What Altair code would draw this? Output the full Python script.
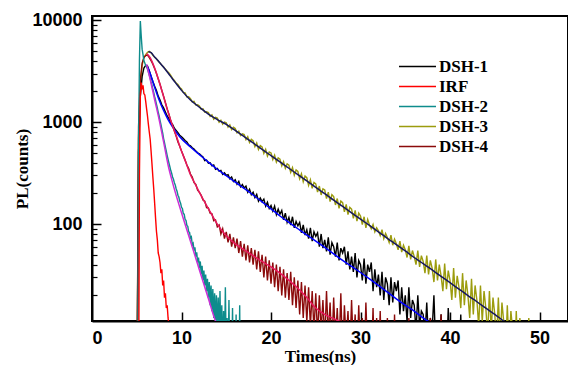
import altair as alt
import pandas as pd

# ---------------- data ----------------
series_names = ["DSH-1", "IRF", "DSH-2", "DSH-3", "DSH-4"]
series_colors = ["#000000", "#FF0000", "#0E8C8C", "#9C9C0E", "#8B0A0A"]

# DSH-3 (olive) counts, t from 5.0 ns, step 0.2 ns
dsh3_t0, dsh3_dt = 5.0, 0.2
dsh3_counts = [
    1, 700, 2300, 3600, 4300, 4600, 4850, 4950, 4800, 4520,
    4330, 4180, 3960, 3810, 3620, 3470, 3310, 3160, 3040, 2870,
    2690, 2570, 2420, 2340, 2190, 2120, 1960, 1940, 1770, 1780,
    1700, 1580, 1600, 1470, 1480, 1440, 1340, 1350, 1250, 1265,
    1240, 1140, 1180, 1070, 1115, 1095, 1000, 1045, 955, 1000,
    985, 895, 940, 845, 890, 865, 785, 815, 740, 770,
    755, 675, 720, 632, 678, 658, 576, 625, 540, 590,
    572, 494, 542, 465, 510, 498, 430, 474, 405, 446,
    434, 372, 410, 352, 390, 378, 322, 358, 302, 340,
    328, 278, 312, 260, 296, 285, 240, 272, 224, 256,
    248, 206, 236, 193, 222, 216, 178, 206, 166, 194,
    186, 154, 178, 143, 168, 162, 132, 156, 124, 146,
    140, 114, 136, 107, 128, 120, 99, 118, 92, 111,
    98, 90, 99, 84, 92, 86, 77, 88, 72, 81,
    74, 66, 78, 62, 71, 64, 56, 68, 53, 62,
    56, 47, 61, 45, 55, 48, 40, 55, 38, 49,
    43, 33, 49, 32, 44, 37, 27, 45, 28, 40,
    31, 22, 41, 23, 35, 28, 18, 37, 19, 31,
    24, 15, 33, 16, 28, 20, 12, 29, 13, 25,
    18, 10, 25, 11, 22, 15, 8, 22, 9, 19,
    13, 7, 19, 7, 17, 11, 5, 16, 6, 14,
    9, 4, 14, 5, 12, 7, 3, 10, 4, 12,
    5, 2, 4, 2, 1,
]

# DSH-1 (black) counts, t from 5.0 ns, step 0.2 ns
dsh1_t0, dsh1_dt = 5.0, 0.2
dsh1_counts = [
    1, 500, 1800, 2800, 3400, 3600, 3550, 3200, 2800, 2500,
    2250, 2050, 1800, 1650, 1480, 1380, 1260, 1150, 1080, 980,
    950, 870, 830, 790, 745, 720, 690, 660, 640, 600,
    585, 560, 545, 520, 500, 490, 470, 455, 420, 425,
    395, 400, 372, 380, 345, 352, 330, 336, 308, 318,
    300, 305, 278, 290, 262, 272, 246, 262, 232, 244,
    226, 236, 205, 220, 194, 205, 182, 196, 168, 180,
    166, 176, 150, 164, 142, 152, 134, 150, 124, 140,
    125, 136, 110, 128, 104, 116, 98, 118, 92, 106,
    96, 104, 82, 98, 78, 88, 72, 92, 68, 84,
    76, 82, 60, 80, 58, 70, 54, 74, 50, 66,
    60, 48, 66, 44, 58, 52, 60, 40, 54, 36,
    48, 34, 52, 30, 44, 40, 28, 46, 26, 40,
    34, 42, 22, 36, 24, 32, 20, 34, 18, 30,
    26, 16, 30, 17, 27, 22, 28, 13, 24, 14,
    20, 11, 24, 12, 18, 16, 9, 20, 10, 14,
    13, 8, 17, 7, 12, 9, 20, 6, 10, 5,
    13, 5, 8, 4, 15, 6, 4, 11, 3, 7,
    4, 13, 3, 5, 2, 8, 2, 4, 1, 1,
]

# DSH-4 (dark red) counts, t from 5.0 ns, step 0.2 ns
dsh4_t0, dsh4_dt = 5.0, 0.2
dsh4_counts = [
    1, 900, 2600, 3800, 4300, 4500, 4550, 4300, 4000, 3700,
    3350, 3000, 2650, 2350, 2050, 1800, 1560, 1350, 1200, 1030,
    930, 820, 730, 640, 580, 520, 470, 425, 380, 350,
    310, 290, 255, 245, 215, 205, 192, 172, 168, 145,
    144, 128, 126, 108, 110, 94, 98, 80, 90, 72,
    84, 66, 80, 60, 74, 58, 72, 52, 68, 48,
    64, 44, 62, 42, 58, 40, 56, 36, 54, 34,
    50, 30, 48, 28, 44, 26, 42, 24, 40, 22,
    38, 20, 36, 19, 33, 18, 34, 16, 30, 15,
    28, 13, 27, 12, 25, 11, 24, 10, 22, 9,
    21, 8, 20, 9, 18, 7, 22, 8, 17, 6,
    19, 7, 15, 6, 21, 5, 16, 7, 14, 5,
    18, 6, 13, 4, 16, 5, 12, 4, 17, 5,
    11, 4, 15, 3, 12, 4, 14, 3, 10, 3,
    12, 3, 9, 2, 13, 3, 8, 2, 11, 2,
    7, 2, 12, 2, 6, 2, 10, 2, 5, 1,
    9, 1, 4, 1, 12, 1, 3, 1, 8, 1,
    13, 1, 2, 1, 11, 1, 2, 1, 9, 1,
]

# DSH-2 (teal) counts, t from 5.0 ns, step 0.1 ns
dsh2_t0, dsh2_dt = 5.0, 0.1
dsh2_counts = [
    1, 1, 600, 4000, 9800, 7000, 5200, 4600, 4000, 3800,
    3600, 3500, 3300, 3100, 2900, 2700, 2480, 2300, 2100, 1950,
    1780, 1640, 1500, 1380, 1250, 1150, 1040, 950, 860, 780,
    690, 630, 570, 520, 470, 430, 395, 365, 335, 315,
    290, 275, 255, 242, 222, 210, 192, 184, 168, 160,
    146, 142, 127, 125, 111, 109, 97, 95, 84, 83,
    73, 75, 63, 65, 55, 59, 48, 53, 42, 47,
    37, 43, 32, 39, 28, 35, 25, 32, 22, 29,
    19, 27, 16, 25, 14, 23, 12, 21, 10, 20,
    9, 19, 8, 22, 7, 16, 6, 14, 5, 24,
    5, 12, 4, 18, 4, 10, 3, 15, 3, 8,
    2, 13, 2, 6, 2, 16, 1, 5, 1, 1, 1,
]

# IRF (red) counts, t from 5.0 ns, step 0.1 ns
irf_t0, irf_dt = 5.0, 0.1
irf_counts = [
    1, 1, 1, 300, 1800, 2450, 2100, 2300, 1900, 1850,
    1600, 1350, 1150, 950, 800, 680, 520, 390, 290, 220,
    160, 115, 85, 70, 52, 48, 42, 33, 36, 25,
    28, 19, 21, 15, 16, 12, 10, 1,
]

# fitted curves (time ns, counts)
fit3_t = [6.3, 6.6, 7, 7.5, 8, 8.5, 9, 9.5, 10, 11, 12, 13, 14, 15, 16, 17, 18, 19, 20,
          21, 22, 23, 24, 25, 26, 27, 28, 29, 30, 31, 32, 33, 34, 35, 36, 37, 38, 39,
          40, 41, 42, 43, 44, 45, 46, 47]
fit3_v = [4900, 4800, 4350, 3900, 3450, 3030, 2650, 2330, 2050, 1650, 1400, 1200, 1060,
          950, 830, 720, 625, 540, 470, 408, 353, 306, 265, 229, 199, 172, 149, 129,
          112, 97, 84, 72.5, 63, 54.5, 47, 41, 35.5, 30.7, 26.6, 23, 19.9, 17.3, 15,
          13, 11.2, 9.7]

fit1_t = [6.2, 6.5, 7, 7.5, 8, 8.5, 9, 9.8, 11, 12, 13, 14, 15, 16, 17, 18, 19, 20,
          21, 22, 23, 24, 25, 26, 27, 28, 29, 30, 31, 32, 33, 34, 35, 36, 37, 38]
fit1_v = [3500, 3000, 2200, 1650, 1300, 1060, 900, 720, 570, 480, 405, 345, 298, 258,
          224, 193, 165, 141, 120, 104, 90, 78, 68, 59, 51, 44, 38.5, 33.5, 29, 25,
          21.5, 18.5, 16, 14, 12, 10.5]

fit4_t = [6.1, 6.5, 7, 7.5, 8, 8.5, 9, 9.5, 10, 10.5, 11, 11.5, 12, 13, 14, 15, 16,
          17, 18, 19, 20, 21, 22, 23, 24, 25, 26, 27, 28]
fit4_v = [4700, 4300, 3400, 2500, 1770, 1250, 920, 700, 520, 400, 305, 250, 205, 142,
          100, 77, 64, 56, 49, 43, 38, 33, 28, 23.5, 19, 15, 13, 11.8, 10.8]

fit2_t = [6.1, 6.5, 7, 7.5, 8, 8.5, 9, 10, 11, 12, 13, 13.8, 14.2]
fit2_v = [3700, 2630, 1660, 1060, 640, 380, 255, 129, 68, 35.5, 18.6, 11.2, 9.5]

fit_names = ["DSH-3 fit", "DSH-1 fit", "DSH-4 fit", "DSH-2 fit"]
fit_colors = ["#161660", "#0000FF", "#E8195E", "#CC2FD6"]

x_ticks = [0, 10, 20, 30, 40, 50]
y_ticks = [100, 1000, 10000]
y_minor = [20, 30, 40, 50, 60, 70, 80, 90,
           200, 300, 400, 500, 600, 700, 800, 900,
           2000, 3000, 4000, 5000, 6000, 7000, 8000, 9000]

# ---------------- tables ----------------
rows = []
def add(name, t0, dt, vals):
    for i, v in enumerate(vals):
        rows.append({"series": name, "t": round(t0 + i * dt, 3), "v": v})

add("DSH-3", dsh3_t0, dsh3_dt, dsh3_counts)
add("DSH-1", dsh1_t0, dsh1_dt, dsh1_counts)
add("DSH-4", dsh4_t0, dsh4_dt, dsh4_counts)
add("DSH-2", dsh2_t0, dsh2_dt, dsh2_counts)
add("IRF", irf_t0, irf_dt, irf_counts)
df = pd.DataFrame(rows)

frows = []
for name, ts, vs in zip(fit_names, [fit3_t, fit1_t, fit4_t, fit2_t],
                        [fit3_v, fit1_v, fit4_v, fit2_v]):
    for t, v in zip(ts, vs):
        frows.append({"fit": name, "t": t, "v": v})
fdf = pd.DataFrame(frows)

# ---------------- chart ----------------
x_scale = alt.Scale(domain=[0, 53.18], nice=False, zero=False)
y_scale = alt.Scale(type="log", domain=[11.2, 11000], nice=False)
color_scale = alt.Scale(domain=series_names, range=series_colors)

legend = alt.Legend(
    orient="none", legendX=317, legendY=42, title=None, padding=0,
    symbolType="M-3,0H3", symbolSize=152, symbolStrokeWidth=1.5,
    labelFont="Liberation Serif", labelFontSize=17, labelFontWeight="bold",
    labelColor="black", labelOffset=13, rowPadding=2.0,
)

x_main = alt.Axis(
    values=x_ticks, title="Times(ns)", ticks=False, grid=False,
    domainColor="black", domainWidth=2, labelColor="black",
    labelFont="Liberation Sans", labelFontSize=18, labelFontWeight="bold",
    labelPadding=8, titleFont="Liberation Serif", titleFontSize=17,
    titleFontWeight="bold", titleColor="black", titleX=228, titleY=40,
    titleBaseline="alphabetic", titleAlign="center",
)
y_main = alt.Axis(
    values=y_ticks, format="d", title="PL(counts)", ticks=False, grid=False,
    domainColor="black", domainWidth=2, labelColor="black",
    labelFont="Liberation Sans", labelFontSize=18, labelFontWeight="bold",
    labelPadding=10, titleFont="Liberation Serif", titleFontSize=17,
    titleFontWeight="bold", titleColor="black", titleX=-70, titleY=152.5,
    titleAngle=270, titleAlign="center", titleBaseline="middle",
)
x_tickaxis = alt.Axis(values=x_ticks[1:], orient="bottom", offset=-9, tickSize=9,
                      tickWidth=1.5, tickColor="black", domain=False, labels=False,
                      grid=False, title="")
y_tickaxis = alt.Axis(values=y_ticks, orient="left", offset=-9, tickSize=9,
                      tickWidth=1.5, tickColor="black", domain=False, labels=False,
                      grid=False, title="")
y_minoraxis = alt.Axis(values=y_minor, orient="left", offset=-5, tickSize=5,
                       tickWidth=1.2, tickColor="black", domain=False, labels=False,
                       grid=False, title="")

base = alt.Chart(df)
data_layers = []
for i, name in enumerate(["DSH-3", "DSH-1", "DSH-4", "DSH-2", "IRF"]):
    xa = x_main if i == 0 else None
    ya = y_main if i == 0 else None
    layer = base.transform_filter(alt.datum.series == name).mark_line(
        clip=True, strokeWidth=1.4
    ).encode(
        x=alt.X("t:Q", scale=x_scale, axis=xa),
        y=alt.Y("v:Q", scale=y_scale, axis=ya),
        color=alt.Color("series:N", scale=color_scale, legend=legend),
    )
    data_layers.append(layer)

fbase = alt.Chart(fdf)
fit_layers = []
for name, col in zip(fit_names, fit_colors):
    fit_layers.append(
        fbase.transform_filter(alt.datum.fit == name).mark_line(
            clip=True, strokeWidth=1.5, interpolate="monotone", color=col
        ).encode(
            x=alt.X("t:Q", scale=x_scale, axis=None),
            y=alt.Y("v:Q", scale=y_scale, axis=None),
            detail="fit:N",
        )
    )

tick_layer1 = fbase.mark_point(opacity=0).encode(
    x=alt.X("t:Q", scale=x_scale, axis=x_tickaxis),
    y=alt.Y("v:Q", scale=y_scale, axis=y_tickaxis),
)
tick_layer2 = fbase.mark_point(opacity=0).encode(
    x=alt.X("t:Q", scale=x_scale, axis=None),
    y=alt.Y("v:Q", scale=y_scale, axis=y_minoraxis),
)

chart = alt.layer(*data_layers, *fit_layers, tick_layer1, tick_layer2).resolve_axis(
    x="independent", y="independent"
).properties(
    width=476, height=305,
    autosize=alt.AutoSizeParams(type="none"),
    padding={"left": 84, "top": 8, "right": 0, "bottom": 44},
    background="white",
).configure_view(stroke="black", strokeWidth=2)

chart.save("out.html", embed_options={"renderer": "svg", "actions": False})
